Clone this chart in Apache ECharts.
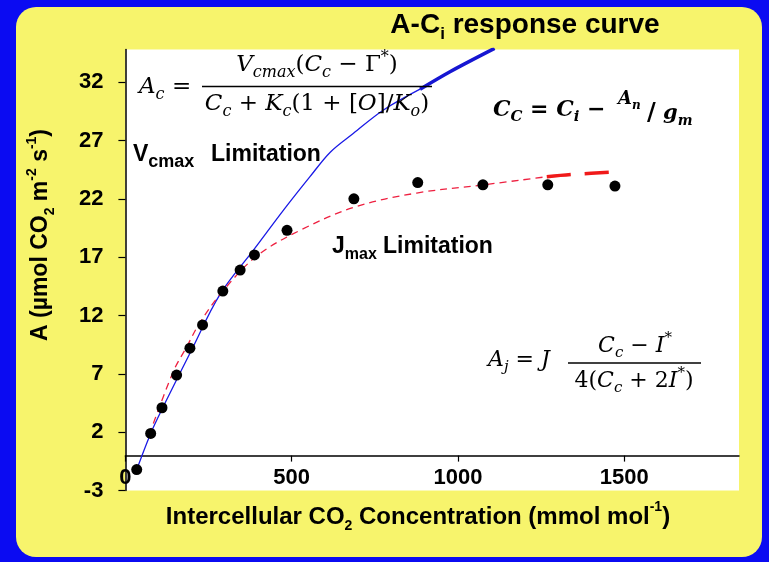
<!DOCTYPE html>
<html>
<head>
<meta charset="utf-8">
<script src="https://cdn.jsdelivr.net/npm/echarts@6/dist/echarts.min.js"></script>
<style>
html,body{margin:0;padding:0;background:#0b0bf2;}
#chart{width:769px;height:562px;}
</style>
</head>
<body>
<div id="chart"></div>
<script>
// ---- data ----
const ciObs = [34, 76, 110, 154, 194, 232, 293, 345, 388, 486, 687, 879, 1075, 1270, 1472];
const aObs  = [-1.2, 1.9, 4.1, 6.9, 9.2, 11.2, 14.1, 15.9, 17.2, 19.3, 22.0, 23.4, 23.2, 23.2, 23.1];

const vcmaxCi = [29, 76, 114, 199, 284, 385, 480, 555, 616, 685, 775, 886];
const vcmaxA  = [-1.6, 1.9, 4.2, 9.05, 13.8, 17.6, 21.2, 23.9, 26.0, 27.6, 29.6, 31.4];
const vcmaxTopCi = [886, 976, 1110];
const vcmaxTopA  = [31.4, 32.9, 34.9];

const jmaxCi = [72, 144, 184, 224, 293, 395, 525, 690, 876, 1076, 1267];
const jmaxA  = [1.8, 7.2, 9.3, 11.4, 14.1, 17.1, 19.3, 21.3, 22.5, 23.2, 23.9];
const jmaxTailCi = [1267, 1346, 1472];
const jmaxTailA  = [23.9, 24.1, 24.3];

const xTicks = [0, 500, 1000, 1500];
const yTicks = [-3, 2, 7, 12, 17, 22, 27, 32];

// ---- helpers ----
const SANS = 'Liberation Sans';
const SERIF = 'DejaVu Serif';
const pairs = (xs, ys) => xs.map((x, i) => [x, ys[i]]);
function tk(size, o) {
  return Object.assign({fontSize: size, fontFamily: SANS, fontWeight: 'bold', fontStyle: 'normal',
    fill: '#000', color: '#000', lineHeight: size}, o || {});
}
function txt(x, y, text, rich, align, extra) {
  return Object.assign({
    type: 'text', x: x, y: y, z: 50, silent: true,
    style: {text: text, rich: rich, align: align || 'left', verticalAlign: 'middle',
      fontSize: 20, fontFamily: SANS, fill: '#000'}
  }, extra || {});
}
const eqRich = (F, bold) => ({
  i: tk(F, {fontFamily: SERIF, fontStyle: 'italic', fontWeight: bold ? 'bold' : 'normal', lineHeight: F + 8}),
  o: tk(F, {fontFamily: SERIF, fontStyle: 'normal', fontWeight: bold ? 'bold' : 'normal', lineHeight: F + 8}),
  s: tk(Math.round(F * 0.68), {fontFamily: SERIF, fontStyle: 'italic', fontWeight: bold ? 'bold' : 'normal', verticalAlign: 'bottom'}),
  sup: tk(Math.round(F * 0.68), {fontFamily: SERIF, fontStyle: 'normal', fontWeight: bold ? 'bold' : 'normal', verticalAlign: 'top'})
});
const sansRich = (F, f) => ({
  m: tk(F, {lineHeight: F + 9}),
  s: tk(f, {verticalAlign: 'bottom'}),
  p: tk(f, {verticalAlign: 'top'})
});

const chart = echarts.init(document.getElementById('chart'));
const option = {
  animation: false,
  backgroundColor: '#0b0bf2',
  textStyle: {fontFamily: SANS},
  grid: {left: 125.4, right: 30, top: 49.5, bottom: 71.4, show: true, backgroundColor: '#ffffff', borderWidth: 0, containLabel: false},
  xAxis: {
    type: 'value', min: 0, max: 1845, interval: 500,
    axisLine: {show: true, onZero: true, lineStyle: {color: '#000', width: 1.5}},
    axisTick: {show: true, length: 6, lineStyle: {color: '#000', width: 1.2}, customValues: xTicks},
    axisLabel: {color: '#000', fontSize: 22, fontWeight: 'bold', fontFamily: SANS, margin: -24,
      customValues: xTicks, formatter: v => String(v)},
    splitLine: {show: false}
  },
  yAxis: {
    type: 'value', min: -3, max: 34.8, interval: 5,
    axisLine: {show: true, onZero: false, lineStyle: {color: '#000', width: 1.5}},
    axisTick: {show: true, length: 7, lineStyle: {color: '#000', width: 1.2}, customValues: yTicks},
    axisLabel: {color: '#000', fontSize: 22, fontWeight: 'bold', fontFamily: SANS, margin: 22,
      customValues: yTicks, formatter: v => String(v)},
    splitLine: {show: false}
  },
  series: [
    {type: 'line', data: pairs(vcmaxCi, vcmaxA), smooth: 0.35, symbol: 'none',
      lineStyle: {color: '#1a1ae6', width: 1.3}, z: 3},
    {type: 'line', data: pairs(vcmaxTopCi, vcmaxTopA), smooth: 0.3, symbol: 'none',
      lineStyle: {color: '#1616d2', width: 3.5}, z: 3},
    {type: 'line', data: pairs(jmaxCi, jmaxA), smooth: 0.35, symbol: 'none',
      lineStyle: {color: '#ee2040', width: 1.3, type: [7, 5]}, z: 4},
    {type: 'line', data: pairs(jmaxTailCi, jmaxTailA), smooth: 0.3, symbol: 'none',
      lineStyle: {color: '#f01a1a', width: 3.5, type: [24, 14]}, z: 4},
    {type: 'scatter', data: pairs(ciObs, aObs), symbol: 'circle', symbolSize: 11,
      itemStyle: {color: '#000', opacity: 1}, z: 6}
  ],
  graphic: [
    {type: 'rect', z: -10, silent: true, shape: {x: 16, y: 7, width: 746, height: 550, r: 20},
      style: {fill: '#f7f46c'}},
    // title
    txt(525, 25, '{a|A-C}{s|i}{a| response curve}',
      {a: tk(28, {lineHeight: 36}), s: tk(17, {verticalAlign: 'bottom'})}, 'center'),
    // axis names
    txt(418, 517, '{m|Intercellular CO}{s|2}{m| Concentration (mmol mol}{p|-1}{m|)}', sansRich(24, 14), 'center'),
    txt(41, 235, '{m|A (µmol CO}{s|2}{m| m}{p|-2}{m| s}{p|-1}{m|)}', sansRich(23, 14), 'center', {rotation: Math.PI / 2}),
    // limitation labels
    txt(133, 155, '{m|V}{s|cmax}', {m: tk(23, {lineHeight: 32}), s: tk(18, {verticalAlign: 'bottom'})}),
    txt(211, 155, '{m|Limitation}', {m: tk(23, {lineHeight: 32})}),
    txt(332, 247, '{m|J}{s|max}', {m: tk(23, {lineHeight: 32}), s: tk(16, {verticalAlign: 'bottom'})}),
    txt(383, 247, '{m|Limitation}', {m: tk(23, {lineHeight: 32})}),
    // A_c equation
    txt(139, 87, '{i|A}{s|c}{o| =}', eqRich(23)),
    txt(317, 65, '{i|V}{s|cmax}{o|(}{i|C}{s|c}{o| − Γ}{sup|*}{o|)}', eqRich(23), 'center'),
    {type: 'line', z: 50, silent: true, shape: {x1: 202, y1: 86.5, x2: 432, y2: 86.5}, style: {stroke: '#000', lineWidth: 1.5}},
    txt(317, 104.5, '{i|C}{s|c}{o| + }{i|K}{s|c}{o|(1 + [}{i|O}{o|]/}{i|K}{s|o}{o|)}', eqRich(23), 'center'),
    // C_c equation
    txt(493, 110, '{i|C}{s|C}{o| = }{i|C}{s|i}{o| −}', eqRich(22, true)),
    txt(618, 99, '{i|A}{s|n}', eqRich(18, true)),
    txt(647, 114, '{o|/}', eqRich(24, true)),
    txt(663, 114, '{i|g}{s|m}', eqRich(21, true)),
    // A_j equation
    txt(488, 360, '{i|A}{s|j}{o| = }{i|J}', eqRich(22)),
    txt(635, 346, '{i|C}{s|c}{o| − }{i|I}{sup|*}', eqRich(22), 'center'),
    {type: 'line', z: 50, silent: true, shape: {x1: 568, y1: 363, x2: 701, y2: 363}, style: {stroke: '#000', lineWidth: 1.5}},
    txt(634, 381, '{o|4(}{i|C}{s|c}{o| + 2}{i|I}{sup|*}{o|)}', eqRich(22), 'center')
  ]
};
chart.setOption(option);
</script>
</body>
</html>
